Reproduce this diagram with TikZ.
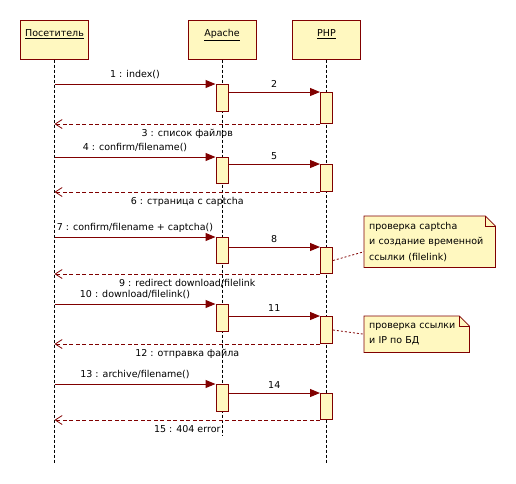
\documentclass[tikz,border=0pt]{standalone}
\usepackage{fontspec}
\setmainfont{DejaVu Sans}
\usetikzlibrary{arrows.meta,backgrounds,positioning}
\definecolor{umlred}{RGB}{128,0,0}
\definecolor{umlfill}{RGB}{255,248,192}
\tikzset{
  actor/.style={draw=umlred, fill=umlfill, line width=1pt, minimum width=68pt, minimum height=39pt},
  actorname/.style={inner sep=1pt, font=\fontsize{9.5}{11}\selectfont},
  act/.style={draw=umlred, fill=umlfill, line width=1pt, minimum width=12pt, anchor=north, inner sep=0pt},
  lifeline/.style={draw=black, line width=0.8pt, dash pattern=on 3pt off 2pt},
  call/.style={draw=umlred, line width=1pt, -{Triangle[length=10pt,width=8pt]}},
  reply/.style={draw=umlred, line width=0.8pt, dash pattern=on 4pt off 2.5pt, -{Straight Barb[length=7pt,width=9pt]}},
  notetext/.style={anchor=north west, align=left, inner xsep=5pt, inner ysep=0pt, font=\fontsize{9.5}{15.5}\selectfont},
  notebox/.style={draw=umlred, fill=umlfill, line width=0.8pt},
  notelink/.style={draw=umlred, line width=0.8pt, dash pattern=on 2pt off 2pt},
  every node/.append style={font=\fontsize{9.5}{11}\selectfont}
}
\begin{document}
\begin{tikzpicture}[x=1pt, y=-1pt]
  \useasboundingbox (0,0) rectangle (516,483);

  % участники
  \node[actor] (visitor) at (54.5,39.5) {};
  \node[actor] (apache) at (222,39.5) {};
  \node[actor] (php) at (326.5,39.5) {};
  \node[actorname, below=9pt of visitor.north] (visitor-name) {\underline{Посетитель}};
  \node[actorname, below=9pt of apache.north] (apache-name) {\underline{Apache}};
  \node[actorname, below=9pt of php.north] (php-name) {\underline{PHP}};

  \coordinate (visitor-end) at (54.5,463);
  \coordinate (apache-end) at (222,435);
  \coordinate (php-end) at (326.5,463);
  \draw[lifeline] (visitor.south) -- (visitor-end);
  \draw[lifeline] (apache.south) -- (apache-end);
  \draw[lifeline] (php.south) -- (php-end);

  % активации
  \node[act, minimum height=27pt] (a1) at (222,84) {};
  \node[act, minimum height=31pt] (p1) at (326.5,92) {};
  \node[act, minimum height=26pt] (a2) at (222,157) {};
  \node[act, minimum height=27pt] (p2) at (326.5,164) {};
  \node[act, minimum height=26pt] (a3) at (222,237) {};
  \node[act, minimum height=26pt] (p3) at (326.5,247) {};
  \node[act, minimum height=27pt] (a4) at (222,304) {};
  \node[act, minimum height=27pt] (p4) at (326.5,316) {};
  \node[act, minimum height=27pt] (a5) at (222,384) {};
  \node[act, minimum height=26pt] (p5) at (326.5,393) {};

  % сообщения
  \draw[call] (visitor |- a1.north) -- (a1.north west) node[midway, above=1pt] {1 : index()};
  \draw[call] (a1.east |- p1.north) -- (p1.north west) node[midway, above=1pt] {2};
  \draw[reply] (p1.south west) -- (visitor |- p1.south) node[midway, below=2pt] {3 : список файлов};

  \draw[call] (visitor |- a2.north) -- (a2.north west) node[midway, above=1pt] {4 : confirm/filename()};
  \draw[call] (a2.east |- p2.north) -- (p2.north west) node[midway, above=1pt] {5};
  \draw[reply] (p2.south west) -- (visitor |- p2.south) node[midway, below=2pt] {6 : страница с captcha};

  \draw[call] (visitor |- a3.north) -- (a3.north west) node[midway, above=1pt] {7 : confirm/filename + captcha()};
  \draw[call] (a3.east |- p3.north) -- (p3.north west) node[midway, above=1pt] {8};
  \draw[reply] (p3.south west) -- (visitor |- p3.south) node[midway, below=2pt] {9 : redirect download/filelink};

  \draw[call] (visitor |- a4.north) -- (a4.north west) node[midway, above=1pt] {10 : download/filelink()};
  \draw[call] (a4.east |- p4.north) -- (p4.north west) node[midway, above=1pt] {11};
  \draw[reply] (p4.south west) -- (visitor |- p4.south) node[midway, below=2pt] {12 : отправка файла};

  \draw[call] (visitor |- a5.north) -- (a5.north west) node[midway, above=1pt] {13 : archive/filename()};
  \draw[call] (a5.east |- p5.north) -- (p5.north west) node[midway, above=1pt] {14};
  \draw[reply] (p5.south west) -- (visitor |- p5.south) node[midway, below=2pt] {15 : 404 error};

  % примечания
  \node[notetext, minimum width=131pt, minimum height=51pt, text width=121pt] (note1) at (364,216)
    {проверка captcha\\и создание временной\\ссылки (filelink)};
  \node[notetext, minimum width=105pt, minimum height=36pt, text width=95pt] (note2) at (364,316)
    {проверка ссылки\\и IP по БД};
  \begin{scope}[on background layer]
    \draw[notebox] (note1.north west) -- ([xshift=-10pt]note1.north east) -- ([yshift=-10pt]note1.north east)
      -- (note1.south east) -- (note1.south west) -- cycle;
    \draw[notebox] (note2.north west) -- ([xshift=-10pt]note2.north east) -- ([yshift=-10pt]note2.north east)
      -- (note2.south east) -- (note2.south west) -- cycle;
  \end{scope}
  \draw[draw=umlred, line width=0.8pt] ([xshift=-10pt]note1.north east) |- ([yshift=-10pt]note1.north east);
  \draw[draw=umlred, line width=0.8pt] ([xshift=-10pt]note2.north east) |- ([yshift=-10pt]note2.north east);
  \draw[notelink] (p3.east) -- ([yshift=-10pt]note1.west);
  \draw[notelink] (p4.east) -- (note2.west);
\end{tikzpicture}
\end{document}
